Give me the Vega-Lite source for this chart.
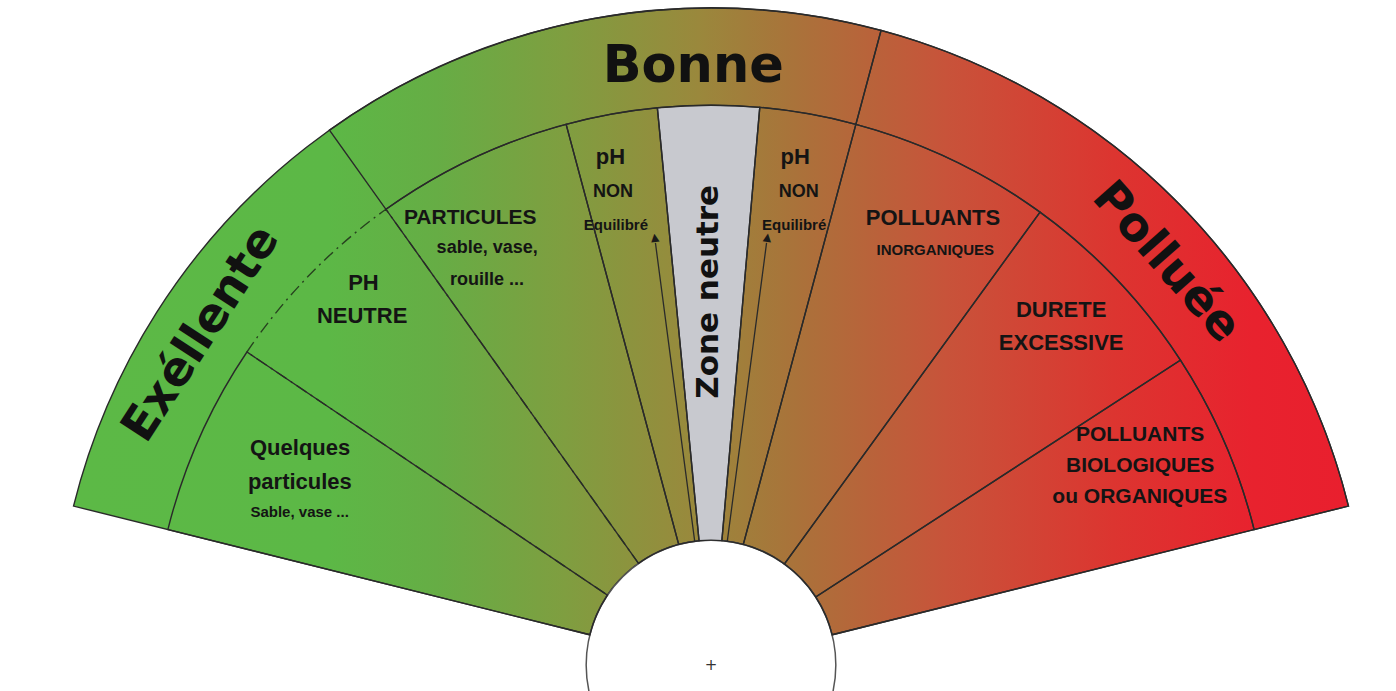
{
  "$schema": "https://vega.github.io/schema/vega-lite/v6.json",
  "width": 1396,
  "height": 691,
  "autosize": "none",
  "padding": 0,
  "background": "white",
  "config": {"view": {"stroke": null}},
  "datasets": {
    "fan": [{"zone": "Qualité de l'eau", "a0": -76, "a1": 76, "r0": 19, "r1": 100}],
    "centre": [{"zone": "centre", "a0": -180, "a1": 180, "r0": 0, "r1": 19}],
    "neutre": [{"zone": "Zone neutre", "a0": -5.5, "a1": 5, "r0": 19, "r1": 85.2}],
    "pointille": [{"zone": "PH NEUTRE", "a0": -56, "a1": -35.5, "r0": 0, "r1": 85.2}],
    "secteurs": [
      {"zone": "Bonne", "a0": -35.5, "a1": 15, "r0": 85.2, "r1": 100},
      {"zone": "Polluée", "a0": 15, "a1": 76, "r0": 85.2, "r1": 100},
      {"zone": "Quelques particules", "a0": -76, "a1": -56, "r0": 19, "r1": 85.2},
      {"zone": "PARTICULES", "a0": -35.5, "a1": -15, "r0": 19, "r1": 85.2},
      {"zone": "pH NON Equilibré gauche", "a0": -15, "a1": -5.5, "r0": 19, "r1": 85.2},
      {"zone": "pH NON Equilibré droite", "a0": 5, "a1": 15, "r0": 19, "r1": 85.2},
      {"zone": "POLLUANTS INORGANIQUES", "a0": 15, "a1": 36, "r0": 19, "r1": 85.2},
      {"zone": "DURETE EXCESSIVE", "a0": 36, "a1": 57, "r0": 19, "r1": 85.2},
      {"zone": "POLLUANTS BIOLOGIQUES", "a0": 57, "a1": 76, "r0": 19, "r1": 85.2}
    ],
    "fleches": [
      {"a0": -7.5, "a1": -7.5, "r0": 19, "r1": 64.8},
      {"a0": 7.5, "a1": 7.5, "r0": 19, "r1": 64.8}
    ],
    "pointes": [
      {"label": "▲", "a": -7.5, "r": 65.6},
      {"label": "▲", "a": 7.5, "r": 65.6}
    ],
    "titres": [
      {"label": "Exéllente", "a": -57, "r": 92.5},
      {"label": "Polluée", "a": 48.5, "r": 92.5}
    ],
    "bonne": [{"label": "Bonne", "a": -1.7, "r": 91}],
    "zoneneutre": [{"label": "Zone neutre", "a": -0.3, "r": 56.8}],
    "croix": [{"label": "+", "a": 0, "r": 0}],
    "texte22": [
      {"label": "Quelques", "a": -62.2, "r": 70.7},
      {"label": "particules", "a": -66.0, "r": 68.5},
      {"label": "PH", "a": -42.3, "r": 78.6},
      {"label": "NEUTRE", "a": -45.0, "r": 75.1},
      {"label": "pH", "a": -11.2, "r": 78.8},
      {"label": "pH", "a": 9.4, "r": 78.4},
      {"label": "POLLUANTS", "a": 26.4, "r": 76.0},
      {"label": "DURETE", "a": 44.6, "r": 75.9},
      {"label": "EXCESSIVE", "a": 47.4, "r": 72.4}
    ],
    "texte21": [
      {"label": "PARTICULES", "a": -28.3, "r": 77.3},
      {"label": "POLLUANTS", "a": 61.8, "r": 74.1},
      {"label": "BIOLOGIQUES", "a": 65.1, "r": 72.0},
      {"label": "ou ORGANIQUES", "a": 68.6, "r": 70.1}
    ],
    "texte18": [
      {"label": "sable, vase,", "a": -28.2, "r": 72.1},
      {"label": "rouille ...", "a": -30.2, "r": 67.8},
      {"label": "NON", "a": -11.7, "r": 73.5},
      {"label": "NON", "a": 10.5, "r": 73.2}
    ],
    "texte15": [
      {"label": "Sable, vase ...", "a": -69.6, "r": 66.8},
      {"label": "Equilibré", "a": -12.2, "r": 68.5},
      {"label": "Equilibré", "a": 10.7, "r": 68.2},
      {"label": "INORGANIQUES", "a": 28.4, "r": 71.8}
    ]
  },
  "encoding": {
    "x": {"datum": 0, "type": "quantitative", "scale": {"domain": [-711, 685], "nice": false, "zero": false}, "axis": null},
    "y": {"datum": 0, "type": "quantitative", "scale": {"domain": [-26, 665], "nice": false, "zero": false}, "axis": null}
  },
  "layer": [
    {
      "data": {"name": "fan"},
      "mark": {
        "type": "arc",
        "stroke": "#2a2a2a",
        "strokeWidth": 1.4,
        "fill": {
          "gradient": "linear", "x1": 0, "y1": 0, "x2": 1, "y2": 0,
          "stops": [
            {"offset": 0, "color": "#5cb946"},
            {"offset": 0.2, "color": "#5cb846"},
            {"offset": 0.285, "color": "#66ad45"},
            {"offset": 0.385, "color": "#7f9e40"},
            {"offset": 0.49, "color": "#9a883c"},
            {"offset": 0.56, "color": "#a8743a"},
            {"offset": 0.685, "color": "#c8533a"},
            {"offset": 0.815, "color": "#dc3530"},
            {"offset": 0.925, "color": "#e8222e"},
            {"offset": 1, "color": "#e91f2e"}
          ]
        }
      },
      "encoding": {
        "theta": {"field": "a0", "type": "quantitative", "stack": false, "scale": {"domain": [-180, 180], "range": [-3.141592653589793, 3.141592653589793]}},
        "theta2": {"field": "a1"},
        "radius": {"field": "r1", "type": "quantitative", "scale": {"type": "linear", "domain": [0, 100], "range": [0, 657], "zero": true}},
        "radius2": {"field": "r0"}
      }
    },
    {
      "data": {"name": "pointille"},
      "mark": {"type": "arc", "fill": null, "stroke": "#27421f", "strokeWidth": 1.4, "strokeDash": [12, 5, 2, 5]},
      "encoding": {
        "theta": {"field": "a0", "type": "quantitative", "stack": false},
        "theta2": {"field": "a1"},
        "radius": {"field": "r1", "type": "quantitative"},
        "radius2": {"field": "r0"}
      }
    },
    {
      "data": {"name": "centre"},
      "mark": {"type": "arc", "fill": "#ffffff", "stroke": "#555555", "strokeWidth": 1.5},
      "encoding": {
        "theta": {"field": "a0", "type": "quantitative", "stack": false},
        "theta2": {"field": "a1"},
        "radius": {"field": "r1", "type": "quantitative"},
        "radius2": {"field": "r0"}
      }
    },
    {
      "data": {"name": "neutre"},
      "mark": {"type": "arc", "fill": "#c8c9cf", "stroke": "#2a2a2a", "strokeWidth": 1.4},
      "encoding": {
        "theta": {"field": "a0", "type": "quantitative", "stack": false},
        "theta2": {"field": "a1"},
        "radius": {"field": "r1", "type": "quantitative"},
        "radius2": {"field": "r0"}
      }
    },
    {
      "data": {"name": "secteurs"},
      "mark": {"type": "arc", "fill": "transparent", "stroke": "#2a2a2a", "strokeWidth": 1.4},
      "encoding": {
        "theta": {"field": "a0", "type": "quantitative", "stack": false},
        "theta2": {"field": "a1"},
        "radius": {"field": "r1", "type": "quantitative"},
        "radius2": {"field": "r0"}
      }
    },
    {
      "data": {"name": "fleches"},
      "mark": {"type": "arc", "fill": "transparent", "stroke": "#2a2a2a", "strokeWidth": 1.3},
      "encoding": {
        "theta": {"field": "a0", "type": "quantitative", "stack": false},
        "theta2": {"field": "a1"},
        "radius": {"field": "r1", "type": "quantitative"},
        "radius2": {"field": "r0"}
      }
    },
    {
      "data": {"name": "pointes"},
      "mark": {"type": "text", "fontSize": 11, "color": "#1a1a1a", "baseline": "middle", "align": "center", "font": "DejaVu Sans"},
      "encoding": {
        "theta": {"field": "a", "type": "quantitative", "stack": false},
        "radius": {"field": "r", "type": "quantitative"},
        "angle": {"field": "a", "type": "quantitative", "scale": {"domain": [-180, 180], "range": [-180, 180]}},
        "text": {"field": "label"}
      }
    },
    {
      "data": {"name": "titres"},
      "mark": {"type": "text", "font": "DejaVu Sans", "fontWeight": "bold", "fontSize": 47, "color": "#111111", "baseline": "middle", "align": "center"},
      "encoding": {
        "theta": {"field": "a", "type": "quantitative", "stack": false},
        "radius": {"field": "r", "type": "quantitative"},
        "angle": {"field": "a", "type": "quantitative"},
        "text": {"field": "label"}
      }
    },
    {
      "data": {"name": "bonne"},
      "mark": {"type": "text", "font": "DejaVu Sans", "fontWeight": "bold", "fontSize": 51, "color": "#111111", "baseline": "middle", "align": "center"},
      "encoding": {
        "theta": {"field": "a", "type": "quantitative", "stack": false},
        "radius": {"field": "r", "type": "quantitative"},
        "text": {"field": "label"}
      }
    },
    {
      "data": {"name": "zoneneutre"},
      "mark": {"type": "text", "font": "DejaVu Sans", "fontWeight": "bold", "fontSize": 31, "angle": -90, "color": "#111111", "baseline": "middle", "align": "center"},
      "encoding": {
        "theta": {"field": "a", "type": "quantitative", "stack": false},
        "radius": {"field": "r", "type": "quantitative"},
        "text": {"field": "label"}
      }
    },
    {
      "data": {"name": "croix"},
      "mark": {"type": "text", "font": "DejaVu Sans", "fontSize": 15, "color": "#333333", "baseline": "middle", "align": "center"},
      "encoding": {
        "theta": {"field": "a", "type": "quantitative", "stack": false},
        "radius": {"field": "r", "type": "quantitative"},
        "text": {"field": "label"}
      }
    },
    {
      "data": {"name": "texte22"},
      "mark": {"type": "text", "font": "Liberation Sans", "fontWeight": "bold", "fontSize": 22, "color": "#141414", "baseline": "middle", "align": "center"},
      "encoding": {
        "theta": {"field": "a", "type": "quantitative", "stack": false},
        "radius": {"field": "r", "type": "quantitative"},
        "text": {"field": "label"}
      }
    },
    {
      "data": {"name": "texte21"},
      "mark": {"type": "text", "font": "Liberation Sans", "fontWeight": "bold", "fontSize": 21, "color": "#141414", "baseline": "middle", "align": "center"},
      "encoding": {
        "theta": {"field": "a", "type": "quantitative", "stack": false},
        "radius": {"field": "r", "type": "quantitative"},
        "text": {"field": "label"}
      }
    },
    {
      "data": {"name": "texte18"},
      "mark": {"type": "text", "font": "Liberation Sans", "fontWeight": "bold", "fontSize": 18, "color": "#141414", "baseline": "middle", "align": "center"},
      "encoding": {
        "theta": {"field": "a", "type": "quantitative", "stack": false},
        "radius": {"field": "r", "type": "quantitative"},
        "text": {"field": "label"}
      }
    },
    {
      "data": {"name": "texte15"},
      "mark": {"type": "text", "font": "Liberation Sans", "fontWeight": "bold", "fontSize": 15, "color": "#141414", "baseline": "middle", "align": "center"},
      "encoding": {
        "theta": {"field": "a", "type": "quantitative", "stack": false},
        "radius": {"field": "r", "type": "quantitative"},
        "text": {"field": "label"}
      }
    }
  ]
}
